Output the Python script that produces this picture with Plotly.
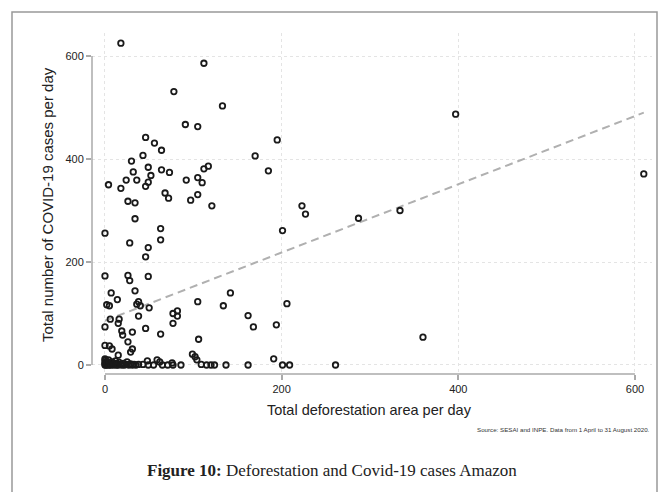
import plotly.graph_objects as go

# Scatter data (deforestation area/day vs COVID-19 cases/day)
deforestation = [
    18, 112, 78, 91, 105, 133, 195, 46, 56, 64, 43, 30, 170, 49, 32, 64, 73, 112, 117, 185,
    105, 92, 24, 36, 52, 49, 46, 4, 18, 110, 68, 72, 26, 34, 97, 105, 121, 34, 0, 63,
    63, 28, 49, 46, 201, 0, 26, 28, 49, 7, 14, 34, 38, 36, 40, 50, 2, 5, 105, 142,
    134, 206, 223, 227, 162, 168, 194, 191, 287, 334, 610, 360, 261, 397, 77, 82, 82, 77, 6, 0,
    16, 15, 38, 19, 20, 31, 46, 63, 106, 26, 0, 5, 8, 31, 29, 15, 99, 102, 104, 109,
    115, 120, 124, 137, 162, 201, 209, 38, 43, 48, 49, 55, 59, 62, 65, 71, 76, 77, 86,
    0, 0, 0, 0, 0, 1, 1, 2, 2, 3, 3, 4, 5, 5, 6, 7, 8, 9, 10, 11,
    12, 13, 14, 15, 16, 18, 19, 21, 22, 24, 25, 27, 29, 31, 33, 35,
]
covid_cases = [
    625, 586, 531, 467, 463, 503, 437, 442, 431, 417, 407, 396, 406, 384, 375, 379, 374, 381, 386, 377,
    364, 359, 359, 359, 368, 355, 347, 350, 343, 354, 334, 324, 318, 315, 320, 331, 309, 284, 256, 265,
    243, 237, 228, 210, 261, 173, 174, 164, 172, 140, 127, 144, 123, 118, 115, 111, 117, 115, 123, 140,
    115, 119, 309, 293, 96, 74, 78, 12, 285, 300, 371, 54, 0, 487, 100, 105, 95, 81, 89, 74,
    89, 81, 95, 66, 58, 64, 71, 60, 50, 45, 38, 37, 31, 31, 25, 19, 21, 16, 10, 1,
    0, 0, 0, 0, 0, 0, 0, 1, 1, 8, 0, 0, 10, 6, 0, 0, 4, 0, 0,
    0, 2, 5, 9, 12, 0, 4, 1, 7, 0, 3, 10, 0, 5, 2, 0, 6, 1, 0, 3,
    8, 0, 2, 0, 5, 1, 0, 3, 0, 1, 6, 0, 2, 0, 1, 0,
]

# Linear fit endpoints
fit_x = [0, 610]
fit_y = [86, 490]

x_ticks = [0, 200, 400, 600]
y_ticks = [0, 200, 400, 600]

x_title = "Total deforestation area per day"
y_title = "Total number of COVID-19 cases per day"
source_note = "Source: SESAI and INPE. Data from 1 April to 31 August 2020."
caption = "<b>Figure 10:</b> Deforestation and Covid-19 cases Amazon"

# Layout geometry (pixels)
W, H = 664, 492
L, R, T, B = 92, 652, 33, 374


def px_x(p):
    return (p - L) / (R - L)


def px_y(p):
    return (B - p) / (B - T)


fig = go.Figure()

fig.add_trace(go.Scatter(
    x=fit_x, y=fit_y, mode="lines",
    line=dict(color="#b0b0b0", width=2, dash="8px,5px"),
    hoverinfo="skip",
))

fig.add_trace(go.Scatter(
    x=deforestation, y=covid_cases, mode="markers",
    marker=dict(symbol="circle-open", size=5.5, color="#1a1a1a",
                line=dict(width=1.8, color="#1a1a1a")),
))

axis_font = dict(family="Liberation Sans, Arial, sans-serif", size=11, color="#222")

fig.update_xaxes(
    range=[-14.7, 619.3], tickvals=x_ticks, ticks="outside", ticklen=5,
    tickwidth=1.5, tickcolor="#aaa", showgrid=True, gridcolor="#e4e4e4",
    griddash="dot", gridwidth=1, zeroline=False, showline=False,
    tickfont=axis_font,
)
fig.update_yaxes(
    range=[-17.5, 644.7], tickvals=y_ticks, ticks="outside", ticklen=5,
    tickwidth=1.5, tickcolor="#aaa", showgrid=True, gridcolor="#e4e4e4",
    griddash="dot", gridwidth=1, zeroline=False, showline=False,
    tickfont=axis_font,
)

shapes = [
    # y axis line spanning 0..600
    dict(type="line", xref="paper", yref="y", x0=0, x1=0, y0=0, y1=600,
         line=dict(color="#aaa", width=1.5)),
    # x axis line spanning 0..600
    dict(type="line", xref="x", yref="paper", x0=0, x1=600, y0=0, y1=0,
         line=dict(color="#aaa", width=1.5)),
    # outer frame
    dict(type="rect", xref="paper", yref="paper",
         x0=px_x(12), x1=px_x(657), y0=px_y(12), y1=px_y(520),
         line=dict(color="#999", width=1.5), layer="below"),
]

annotations = [
    dict(text=x_title, xref="paper", yref="paper", x=px_x(369), y=px_y(410),
         showarrow=False, xanchor="center", yanchor="middle",
         font=dict(family="Liberation Sans, Arial, sans-serif", size=14.5, color="#222")),
    dict(text=y_title, xref="paper", yref="paper", x=px_x(47), y=px_y(205),
         showarrow=False, xanchor="center", yanchor="middle", textangle=-90,
         font=dict(family="Liberation Sans, Arial, sans-serif", size=15, color="#222")),
    dict(text=source_note, xref="paper", yref="paper", x=px_x(652), y=px_y(429),
         showarrow=False, xanchor="right", yanchor="middle",
         font=dict(family="Liberation Sans, Arial, sans-serif", size=6.2, color="#333")),
    dict(text=caption, xref="paper", yref="paper", x=px_x(332), y=px_y(470),
         showarrow=False, xanchor="center", yanchor="middle",
         font=dict(family="Liberation Serif, Times New Roman, serif", size=17, color="#222")),
]

fig.update_layout(
    width=W, height=H,
    margin=dict(l=L, r=W - R, t=T, b=H - B),
    paper_bgcolor="white", plot_bgcolor="white",
    showlegend=False, shapes=shapes, annotations=annotations,
)

fig.write_html("out.html")
